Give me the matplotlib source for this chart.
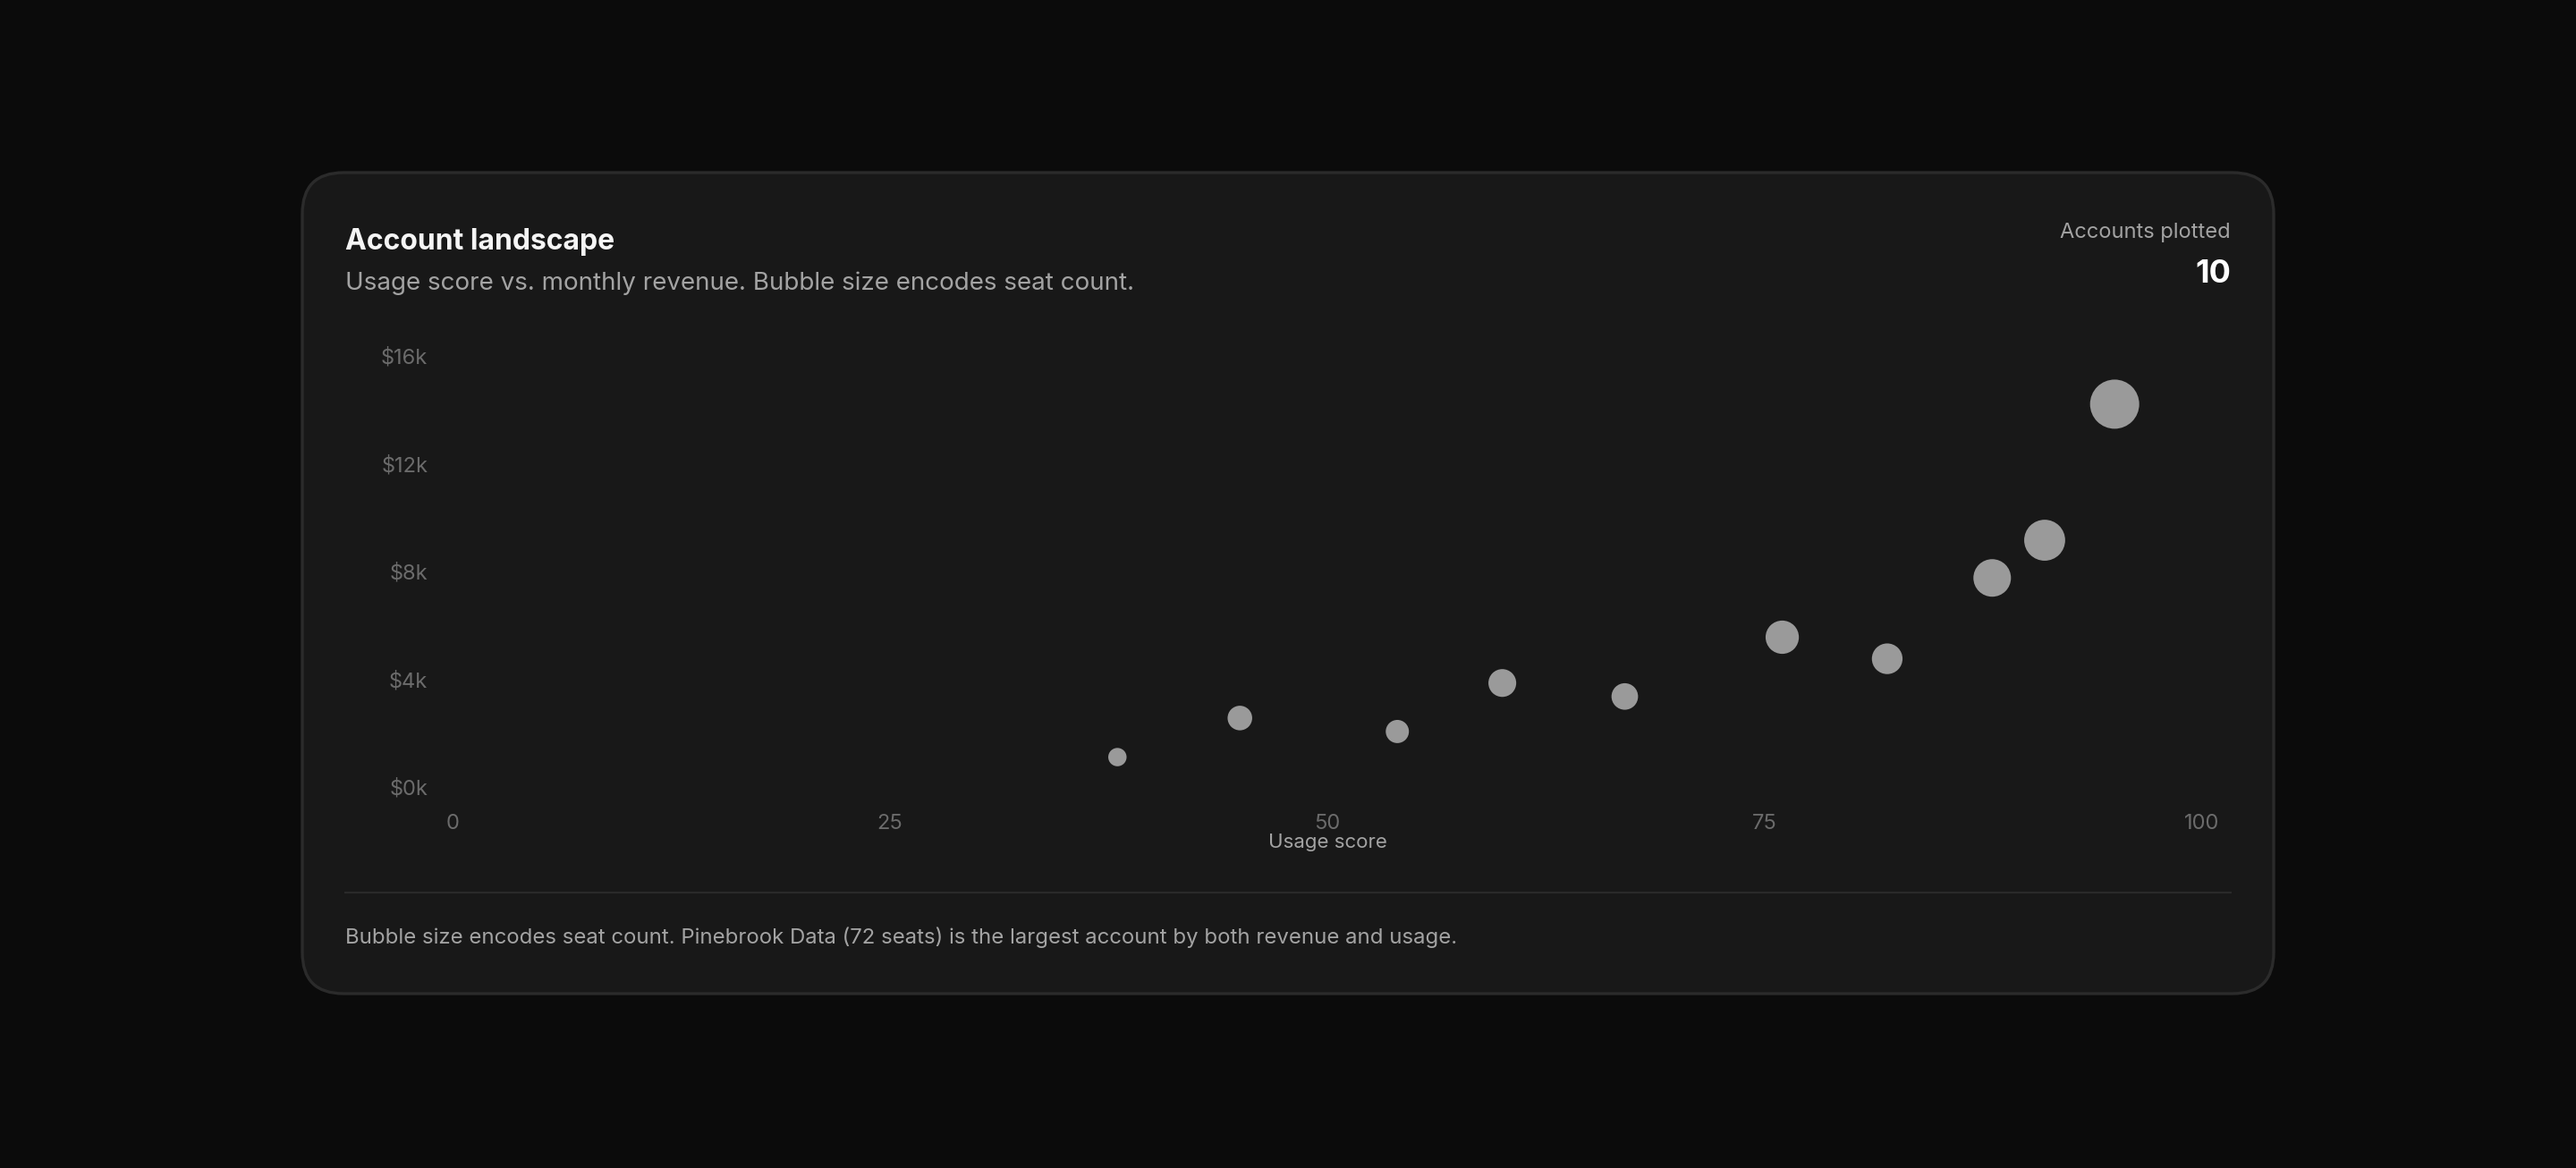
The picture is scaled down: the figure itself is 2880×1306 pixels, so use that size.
import matplotlib
matplotlib.use("Agg")
import matplotlib.pyplot as plt
from matplotlib.patches import FancyBboxPatch
from matplotlib.lines import Line2D
from matplotlib.ticker import FuncFormatter

plt.rcParams['font.family'] = ['Inter', 'DejaVu Sans']

# account data
usage_score = [38, 45, 54, 60, 67, 76, 82, 88, 91, 95]
monthly_revenue = [1200, 2650, 2150, 3950, 3450, 5650, 4850, 7850, 9250, 14300]
seat_count = [10, 18, 16, 23, 21, 33, 28, 42, 50, 72]
y_ticks = [0, 4000, 8000, 12000, 16000]
x_ticks = [0, 25, 50, 75, 100]

W, H = 2880, 1306
DPI = 200
fig = plt.figure(figsize=(W / DPI, H / DPI), dpi=DPI, facecolor='#0b0b0b')


def fx(px):
    return px / W


def fy(py):
    return 1 - py / H


# card
card = FancyBboxPatch((fx(338), fy(1111)), fx(2542) - fx(338), fy(193) - fy(1111),
                      boxstyle="round,pad=0,rounding_size=0.016",
                      transform=fig.transFigure, facecolor='#181818',
                      edgecolor='#2b2b2b', linewidth=1.2,
                      mutation_aspect=W / H, zorder=-5)
fig.patches.append(card)

# header
fig.text(fx(386), fy(270), 'Account landscape', color='#f5f5f5', fontsize=11.5,
         fontweight='bold', va='center', ha='left')
fig.text(fx(386), fy(317), 'Usage score vs. monthly revenue. Bubble size encodes seat count.',
         color='#a3a3a3', fontsize=10, va='center', ha='left')
fig.text(fx(2494), fy(260), 'Accounts plotted', color='#a3a3a3', fontsize=8.5,
         va='center', ha='right')
fig.text(fx(2494), fy(307), str(len(usage_score)), color='#ffffff', fontsize=13,
         fontweight='bold', va='center', ha='right')

# plot area
ax = fig.add_axes([fx(506), fy(882.7), fx(2462) - fx(506), fy(400.7) - fy(882.7)])
ax.set_zorder(2)
ax.set_facecolor('none')
ax.scatter(usage_score, monthly_revenue, s=[5.44 * s for s in seat_count],
           color='#9a9a9a', edgecolors='none', clip_on=False, zorder=3)
ax.set_xlim(0, 100)
ax.set_ylim(0, 16000)
ax.set_xticks(x_ticks)
ax.set_yticks(y_ticks)
ax.yaxis.set_major_formatter(FuncFormatter(lambda v, p: f'${v / 1000:.0f}k'))
for sp in ax.spines.values():
    sp.set_visible(False)
ax.tick_params(length=0, colors='#6b6b6b', labelsize=8.5)
ax.tick_params(axis='y', pad=10)
ax.tick_params(axis='x', pad=10)
for lbl in ax.get_yticklabels():
    lbl.set_verticalalignment('center')
ax.set_xlabel('Usage score', color='#a3a3a3', fontsize=8, labelpad=0)

# divider and footnote
fig.add_artist(Line2D([fx(386), fx(2494)], [fy(998), fy(998)], color='#2a2a2a',
                      linewidth=0.8, transform=fig.transFigure))
fig.text(fx(386), fy(1048),
         'Bubble size encodes seat count. Pinebrook Data (72 seats) is the largest account by both revenue and usage.',
         color='#a3a3a3', fontsize=8.62, va='center', ha='left')

fig.savefig('out.png', dpi=DPI, facecolor=fig.get_facecolor())
